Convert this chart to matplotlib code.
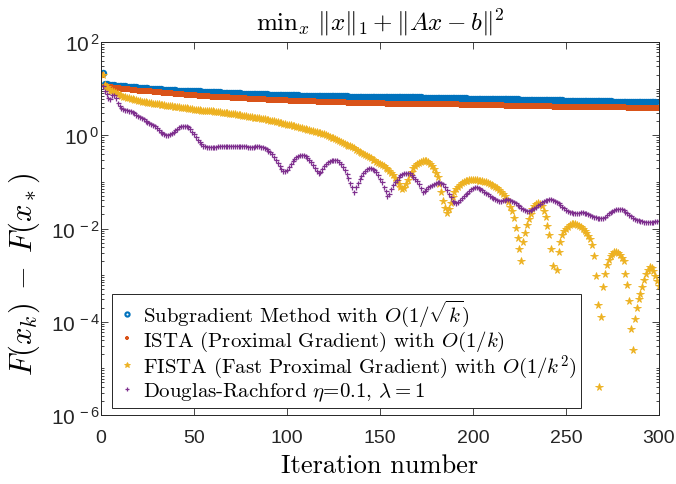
"""
Convergence of four first-order methods on  min ||x||_1 + ||Ax - b||^2.
Values are log10(F(x_k) - F(x_*)) read off the reference, one per iteration.
"""

import numpy as np
import matplotlib
matplotlib.use("Agg")
import matplotlib.pyplot as plt
from matplotlib.ticker import FixedLocator, FixedFormatter, LogLocator, NullFormatter

plt.rcParams["mathtext.fontset"] = "cm"
plt.rcParams["font.family"] = ["Liberation Sans", "DejaVu Sans"]

iterations = np.arange(1, 301)

subgrad_log10 = [
    1.33, 1.10, 1.09, 1.08, 1.08, 1.07, 1.07, 1.06, 1.06, 1.06,
    1.05, 1.05, 1.05, 1.04, 1.04, 1.04, 1.03, 1.03, 1.03, 1.02,
    1.02, 1.02, 1.01, 1.01, 1.01, 1.00, 1.00, 1.00, 0.99, 0.99,
    0.99, 0.99, 0.98, 0.98, 0.98, 0.98, 0.97, 0.97, 0.97, 0.97,
    0.96, 0.96, 0.96, 0.96, 0.95, 0.95, 0.95, 0.95, 0.94, 0.94,
    0.94, 0.94, 0.94, 0.93, 0.93, 0.93, 0.93, 0.93, 0.92, 0.92,
    0.92, 0.92, 0.92, 0.92, 0.91, 0.91, 0.91, 0.91, 0.91, 0.90,
    0.90, 0.90, 0.90, 0.90, 0.90, 0.89, 0.89, 0.89, 0.89, 0.89,
    0.89, 0.89, 0.88, 0.88, 0.88, 0.88, 0.88, 0.88, 0.88, 0.87,
    0.87, 0.87, 0.87, 0.87, 0.87, 0.87, 0.87, 0.86, 0.86, 0.86,
    0.86, 0.86, 0.86, 0.86, 0.86, 0.86, 0.85, 0.85, 0.85, 0.85,
    0.85, 0.85, 0.85, 0.85, 0.85, 0.85, 0.85, 0.85, 0.84, 0.84,
    0.84, 0.84, 0.84, 0.84, 0.84, 0.84, 0.84, 0.84, 0.84, 0.84,
    0.84, 0.84, 0.83, 0.83, 0.83, 0.83, 0.83, 0.83, 0.83, 0.83,
    0.83, 0.83, 0.83, 0.82, 0.82, 0.82, 0.82, 0.82, 0.82, 0.82,
    0.82, 0.82, 0.82, 0.82, 0.82, 0.82, 0.82, 0.82, 0.81, 0.81,
    0.81, 0.81, 0.81, 0.81, 0.81, 0.81, 0.81, 0.81, 0.81, 0.81,
    0.81, 0.81, 0.80, 0.80, 0.80, 0.80, 0.80, 0.80, 0.80, 0.80,
    0.80, 0.80, 0.80, 0.80, 0.79, 0.79, 0.79, 0.79, 0.79, 0.79,
    0.79, 0.79, 0.79, 0.79, 0.79, 0.79, 0.78, 0.78, 0.78, 0.78,
    0.78, 0.78, 0.78, 0.78, 0.78, 0.78, 0.78, 0.78, 0.78, 0.78,
    0.78, 0.78, 0.77, 0.77, 0.77, 0.77, 0.77, 0.77, 0.77, 0.77,
    0.77, 0.77, 0.77, 0.77, 0.76, 0.76, 0.76, 0.76, 0.76, 0.76,
    0.76, 0.76, 0.76, 0.76, 0.76, 0.76, 0.75, 0.75, 0.75, 0.75,
    0.75, 0.75, 0.75, 0.75, 0.75, 0.75, 0.75, 0.75, 0.74, 0.74,
    0.74, 0.74, 0.74, 0.74, 0.74, 0.74, 0.74, 0.74, 0.74, 0.74,
    0.74, 0.74, 0.73, 0.73, 0.73, 0.73, 0.73, 0.73, 0.73, 0.73,
    0.73, 0.73, 0.73, 0.73, 0.72, 0.72, 0.72, 0.72, 0.72, 0.72,
    0.72, 0.72, 0.72, 0.72, 0.72, 0.72, 0.71, 0.71, 0.71, 0.71,
    0.71, 0.71, 0.71, 0.71, 0.71, 0.71, 0.71, 0.71, 0.70, 0.70,
]

ista_log10 = [
    1.29, 1.06, 1.05, 1.04, 1.03, 1.03, 1.02, 1.02, 1.01, 1.01,
    1.00, 1.00, 1.00, 0.99, 0.99, 0.98, 0.98, 0.97, 0.97, 0.96,
    0.96, 0.96, 0.95, 0.95, 0.94, 0.94, 0.94, 0.93, 0.93, 0.92,
    0.92, 0.92, 0.91, 0.91, 0.91, 0.90, 0.90, 0.90, 0.89, 0.89,
    0.89, 0.88, 0.88, 0.88, 0.87, 0.87, 0.87, 0.86, 0.86, 0.86,
    0.86, 0.85, 0.85, 0.85, 0.84, 0.84, 0.84, 0.84, 0.83, 0.83,
    0.83, 0.82, 0.82, 0.82, 0.82, 0.81, 0.81, 0.81, 0.81, 0.80,
    0.80, 0.80, 0.80, 0.79, 0.79, 0.79, 0.79, 0.79, 0.78, 0.78,
    0.78, 0.78, 0.78, 0.77, 0.77, 0.77, 0.77, 0.77, 0.76, 0.76,
    0.76, 0.76, 0.76, 0.76, 0.75, 0.75, 0.75, 0.75, 0.75, 0.75,
    0.74, 0.74, 0.74, 0.74, 0.74, 0.74, 0.74, 0.73, 0.73, 0.73,
    0.73, 0.73, 0.73, 0.73, 0.73, 0.72, 0.72, 0.72, 0.72, 0.72,
    0.72, 0.72, 0.72, 0.71, 0.71, 0.71, 0.71, 0.71, 0.71, 0.71,
    0.71, 0.70, 0.70, 0.70, 0.70, 0.70, 0.70, 0.70, 0.70, 0.70,
    0.70, 0.69, 0.69, 0.69, 0.69, 0.69, 0.69, 0.69, 0.69, 0.69,
    0.69, 0.69, 0.68, 0.68, 0.68, 0.68, 0.68, 0.68, 0.68, 0.68,
    0.68, 0.68, 0.68, 0.68, 0.67, 0.67, 0.67, 0.67, 0.67, 0.67,
    0.67, 0.67, 0.67, 0.67, 0.67, 0.67, 0.66, 0.66, 0.66, 0.66,
    0.66, 0.66, 0.66, 0.66, 0.66, 0.66, 0.66, 0.66, 0.66, 0.66,
    0.66, 0.66, 0.65, 0.65, 0.65, 0.65, 0.65, 0.65, 0.65, 0.65,
    0.65, 0.65, 0.65, 0.65, 0.64, 0.64, 0.64, 0.64, 0.64, 0.64,
    0.64, 0.64, 0.64, 0.64, 0.64, 0.64, 0.63, 0.63, 0.63, 0.63,
    0.63, 0.63, 0.63, 0.63, 0.63, 0.63, 0.63, 0.63, 0.62, 0.62,
    0.62, 0.62, 0.62, 0.62, 0.62, 0.62, 0.62, 0.62, 0.62, 0.62,
    0.62, 0.62, 0.61, 0.61, 0.61, 0.61, 0.61, 0.61, 0.61, 0.61,
    0.61, 0.61, 0.61, 0.61, 0.61, 0.61, 0.61, 0.61, 0.61, 0.61,
    0.61, 0.61, 0.61, 0.60, 0.60, 0.60, 0.60, 0.60, 0.60, 0.60,
    0.60, 0.60, 0.60, 0.60, 0.60, 0.60, 0.60, 0.60, 0.60, 0.60,
    0.60, 0.60, 0.59, 0.59, 0.59, 0.59, 0.59, 0.59, 0.59, 0.59,
    0.59, 0.59, 0.59, 0.59, 0.59, 0.58, 0.58, 0.58, 0.58, 0.58,
]

fista_log10 = [
    1.29, 1.08, 1.03, 0.99, 0.96, 0.94, 0.92, 0.90, 0.88, 0.86,
    0.84, 0.82, 0.81, 0.80, 0.79, 0.78, 0.77, 0.76, 0.75, 0.74,
    0.73, 0.72, 0.72, 0.71, 0.70, 0.69, 0.69, 0.68, 0.67, 0.66,
    0.66, 0.65, 0.65, 0.64, 0.63, 0.63, 0.62, 0.62, 0.61, 0.61,
    0.60, 0.60, 0.59, 0.59, 0.58, 0.58, 0.57, 0.56, 0.56, 0.55,
    0.55, 0.54, 0.54, 0.53, 0.53, 0.52, 0.52, 0.51, 0.51, 0.51,
    0.50, 0.50, 0.49, 0.49, 0.48, 0.48, 0.47, 0.47, 0.46, 0.46,
    0.45, 0.45, 0.44, 0.44, 0.43, 0.42, 0.42, 0.41, 0.40, 0.40,
    0.39, 0.38, 0.38, 0.37, 0.36, 0.35, 0.35, 0.34, 0.33, 0.32,
    0.31, 0.30, 0.30, 0.29, 0.28, 0.27, 0.26, 0.25, 0.24, 0.23,
    0.22, 0.21, 0.20, 0.19, 0.18, 0.17, 0.16, 0.15, 0.14, 0.13,
    0.12, 0.11, 0.10, 0.09, 0.08, 0.06, 0.05, 0.04, 0.03, 0.02,
    0.00, -0.01, -0.03, -0.05, -0.06, -0.08, -0.10, -0.12, -0.14, -0.16,
    -0.18, -0.20, -0.22, -0.24, -0.26, -0.28, -0.31, -0.34, -0.36, -0.39,
    -0.41, -0.43, -0.45, -0.47, -0.49, -0.52, -0.54, -0.57, -0.59, -0.62,
    -0.64, -0.67, -0.70, -0.73, -0.77, -0.81, -0.86, -0.92, -0.98, -1.04,
    -1.10, -1.15, -1.13, -1.05, -0.95, -0.86, -0.78, -0.71, -0.66, -0.62,
    -0.60, -0.57, -0.55, -0.55, -0.56, -0.58, -0.61, -0.66, -0.72, -0.80,
    -0.90, -1.05, -1.22, -1.40, -1.56, -1.66, -1.58, -1.45, -1.32, -1.22,
    -1.15, -1.10, -1.06, -1.03, -1.01, -0.99, -0.98, -0.97, -0.97, -0.97,
    -0.97, -0.97, -0.98, -0.98, -0.99, -1.00, -1.01, -1.03, -1.05, -1.07,
    -1.09, -1.11, -1.14, -1.17, -1.21, -1.26, -1.31, -1.37, -1.44, -1.53,
    -1.62, -1.78, -1.98, -2.20, -2.45, -2.70, -2.30, -2.10, -1.92, -1.80,
    -1.68, -1.59, -1.52, -1.48, -1.46, -1.47, -1.52, -1.62, -1.75, -1.95,
    -2.15, -2.45, -2.80, -3.50, -2.90, -2.50, -2.28, -2.15, -2.06, -2.00,
    -1.96, -1.93, -1.91, -1.90, -1.91, -1.92, -1.94, -1.97, -2.01, -2.05,
    -2.10, -2.16, -2.23, -2.36, -2.60, -3.01, -3.64, -5.39, -3.89, -3.25,
    -2.98, -2.79, -2.67, -2.59, -2.54, -2.51, -2.51, -2.53, -2.57, -2.63,
    -2.70, -2.98, -3.22, -3.55, -4.15, -4.60, -3.95, -3.70, -3.52, -3.40,
    -3.25, -3.10, -2.97, -2.88, -2.83, -2.85, -2.92, -3.02, -3.12, -3.24,
]

dr_log10 = [
    1.06, 0.96, 0.88, 0.80, 0.78, 0.86, 0.86, 0.80, 0.70, 0.63,
    0.59, 0.57, 0.55, 0.54, 0.53, 0.52, 0.50, 0.47, 0.44, 0.42,
    0.40, 0.37, 0.34, 0.31, 0.29, 0.27, 0.25, 0.22, 0.19, 0.16,
    0.12, 0.08, 0.05, 0.02, 0.00, 0.00, 0.02, 0.05, 0.08, 0.11,
    0.14, 0.17, 0.19, 0.20, 0.20, 0.19, 0.17, 0.13, 0.08, 0.02,
    -0.04, -0.10, -0.15, -0.19, -0.22, -0.24, -0.25, -0.26, -0.26, -0.26,
    -0.25, -0.25, -0.24, -0.24, -0.24, -0.23, -0.23, -0.23, -0.23, -0.23,
    -0.23, -0.23, -0.23, -0.23, -0.23, -0.23, -0.24, -0.24, -0.25, -0.25,
    -0.25, -0.25, -0.24, -0.24, -0.24, -0.25, -0.26, -0.28, -0.30, -0.33,
    -0.36, -0.40, -0.46, -0.53, -0.60, -0.67, -0.73, -0.76, -0.77, -0.74,
    -0.68, -0.62, -0.56, -0.51, -0.47, -0.44, -0.42, -0.42, -0.43, -0.45,
    -0.49, -0.53, -0.58, -0.64, -0.70, -0.76, -0.80, -0.78, -0.72, -0.66,
    -0.61, -0.58, -0.55, -0.53, -0.52, -0.52, -0.54, -0.57, -0.62, -0.69,
    -0.75, -0.83, -0.92, -1.02, -1.12, -1.22, -1.12, -1.02, -0.94, -0.87,
    -0.81, -0.76, -0.73, -0.71, -0.71, -0.72, -0.75, -0.79, -0.85, -0.93,
    -1.01, -1.10, -1.20, -1.30, -1.25, -1.15, -1.07, -1.00, -0.95, -0.90,
    -0.86, -0.83, -0.82, -0.81, -0.81, -0.82, -0.85, -0.89, -0.94, -0.99,
    -1.05, -1.13, -1.22, -1.20, -1.16, -1.12, -1.09, -1.06, -1.04, -1.02,
    -1.01, -1.01, -1.02, -1.05, -1.10, -1.17, -1.25, -1.33, -1.40, -1.44,
    -1.45, -1.43, -1.39, -1.35, -1.31, -1.27, -1.23, -1.19, -1.16, -1.14,
    -1.12, -1.12, -1.13, -1.15, -1.18, -1.21, -1.24, -1.27, -1.30, -1.33,
    -1.35, -1.37, -1.39, -1.40, -1.40, -1.39, -1.38, -1.37, -1.37, -1.38,
    -1.40, -1.43, -1.46, -1.49, -1.52, -1.55, -1.58, -1.60, -1.62, -1.62,
    -1.61, -1.59, -1.56, -1.53, -1.50, -1.47, -1.44, -1.41, -1.39, -1.38,
    -1.37, -1.37, -1.38, -1.40, -1.43, -1.46, -1.49, -1.53, -1.57, -1.60,
    -1.62, -1.64, -1.65, -1.66, -1.66, -1.66, -1.66, -1.65, -1.65, -1.66,
    -1.67, -1.69, -1.71, -1.73, -1.75, -1.76, -1.77, -1.78, -1.78, -1.78,
    -1.75, -1.71, -1.67, -1.64, -1.62, -1.60, -1.59, -1.58, -1.58, -1.59,
    -1.61, -1.64, -1.67, -1.71, -1.74, -1.77, -1.79, -1.81, -1.82, -1.83,
    -1.84, -1.85, -1.86, -1.86, -1.86, -1.85, -1.85, -1.84, -1.84, -1.84,
]

labels = [
    r"Subgradient Method with $O(1/\sqrt{k})$",
    r"ISTA (Proximal Gradient) with $O(1/k)$",
    r"FISTA (Fast Proximal Gradient) with $O(1/k^2)$",
    r"Douglas-Rachford $\eta$=0.1, $\lambda=1$",
]
colors = ["#0072BD", "#D95319", "#EDB120", "#7E2F8E"]
x_ticks = [0, 50, 100, 150, 200, 250, 300]
y_ticks = [1e-6, 1e-4, 1e-2, 1e0, 1e2]
y_tick_labels = [r"$\mathdefault{10^{\,-6}}$", r"$\mathdefault{10^{\,-4}}$",
                 r"$\mathdefault{10^{\,-2}}$", r"$\mathdefault{10^{\,0}}$",
                 r"$\mathdefault{10^{\,2}}$"]

fig = plt.figure(figsize=(6.76, 4.85), dpi=100)
ax = fig.add_axes([0.1494, 0.1423, 0.8254, 0.7690])

series = [subgrad_log10, ista_log10, fista_log10, dr_log10]
styles = [
    dict(marker="o", markersize=3.8, markerfacecolor="none", markeredgewidth=1.5),
    dict(marker="+", markersize=3.8, markeredgewidth=1.6),
    dict(marker="*", markersize=5.5, markeredgewidth=0.6),
    dict(marker="+", markersize=3.6, markeredgewidth=0.9),
]
for vals, lab, col, st in zip(series, labels, colors, styles):
    ax.plot(iterations, 10.0 ** np.array(vals), linestyle="none", color=col,
            label=lab, **st)

ax.set_yscale("log")
ax.set_xlim(0, 300)
ax.set_ylim(1e-6, 1e2)
ax.set_xticks(x_ticks)
ax.yaxis.set_major_locator(FixedLocator(y_ticks))
ax.yaxis.set_major_formatter(FixedFormatter(y_tick_labels))
ax.yaxis.set_minor_locator(LogLocator(base=10, subs=np.arange(1, 10), numticks=50))
ax.yaxis.set_minor_formatter(NullFormatter())

ax.tick_params(which="both", direction="in", top=True, right=True,
               colors="#262626", labelsize=14, width=0.6)
ax.tick_params(which="major", length=5)
ax.tick_params(which="minor", length=2.5)
ax.tick_params(axis="x", which="major", pad=10)
ax.tick_params(axis="y", which="major", pad=1, labelsize=15)
for sp in ax.spines.values():
    sp.set_color("#262626")
    sp.set_linewidth(0.7)

ax.set_title(r"$\mathrm{min}_x\ \|x\|_1 + \|Ax - b\|^2$", fontsize=18, pad=9)
ax.set_xlabel("Iteration number", fontfamily="cmr10", fontsize=19, labelpad=5)
ax.set_ylabel(r"$F(x_k)\;-\;F(x_*)$", fontsize=22)
ax.yaxis.set_label_coords(-0.105, 0.38)

leg = ax.legend(loc="lower left", bbox_to_anchor=(0.02, 0.02), borderaxespad=0,
                prop={"family": "cmr10", "size": 15}, fancybox=False,
                framealpha=1, edgecolor="#262626", handlelength=1.0,
                handletextpad=0.3, borderpad=0.2, labelspacing=0.0,
                markerscale=0.8)
leg.get_frame().set_linewidth(0.7)

fig.savefig("out.png", dpi=100)
